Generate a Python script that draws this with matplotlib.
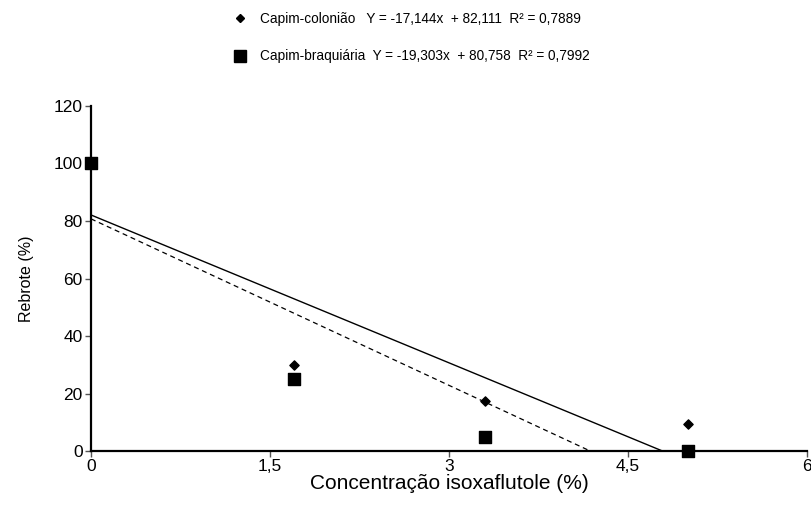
import matplotlib
matplotlib.use('Agg')
import matplotlib.pyplot as plt
import numpy as np
from matplotlib.lines import Line2D

plt.rcParams['font.family'] = ['Liberation Sans', 'DejaVu Sans']

conc = [0, 1.7, 3.3, 5.0]
colon = [100, 30, 17.5, 9.5]
braq = [100, 25, 5, 0]

a_col, b_col = -17.144, 82.111
a_bra, b_bra = -19.303, 80.758

lab_col = 'Capim-colonião   Y = -17,144x  + 82,111  R² = 0,7889'
lab_bra = 'Capim-braquiária  Y = -19,303x  + 80,758  R² = 0,7992'

fig = plt.figure(figsize=(8.12, 5.12), dpi=100)
ax = fig.add_axes([0.112, 0.119, 0.882, 0.674])

ax.scatter(conc, colon, marker='D', s=22, color='black', zorder=3, clip_on=False)
ax.scatter(conc, braq, marker='s', s=70, color='black', zorder=3, clip_on=False)

x1 = np.array([0, -b_col / a_col])
ax.plot(x1, a_col * x1 + b_col, color='black', lw=1.0)
x2 = np.array([0, -b_bra / a_bra])
ax.plot(x2, a_bra * x2 + b_bra, color='black', lw=0.9, ls=(0, (4, 3)))

ax.set_xlim(0, 6)
ax.set_ylim(0, 120)
ax.set_xticks([0, 1.5, 3, 4.5, 6])
ax.set_xticklabels(['0', '1,5', '3', '4,5', '6'])
ax.set_yticks(range(0, 121, 20))
for s in ['top', 'right']:
    ax.spines[s].set_visible(False)
for s in ['left', 'bottom']:
    ax.spines[s].set_linewidth(1.6)
ax.tick_params(direction='out', length=4, width=1, labelsize=12.5, color='#555555', pad=2)
ax.set_xlabel('Concentração isoxaflutole (%)', fontsize=15, labelpad=0)
ax.set_ylabel('Rebrote (%)', fontsize=11.5, labelpad=14)

h1 = Line2D([], [], marker='D', ls='none', color='black', markersize=4.5)
h2 = Line2D([], [], marker='s', ls='none', color='black', markersize=8)
fig.legend([h1, h2], [lab_col, lab_bra], loc='upper left', bbox_to_anchor=(0.27, 1.0),
           frameon=False, fontsize=9.8, labelspacing=1.7, handletextpad=0.9, handlelength=1.2)

fig.savefig('out.png', dpi=100)
